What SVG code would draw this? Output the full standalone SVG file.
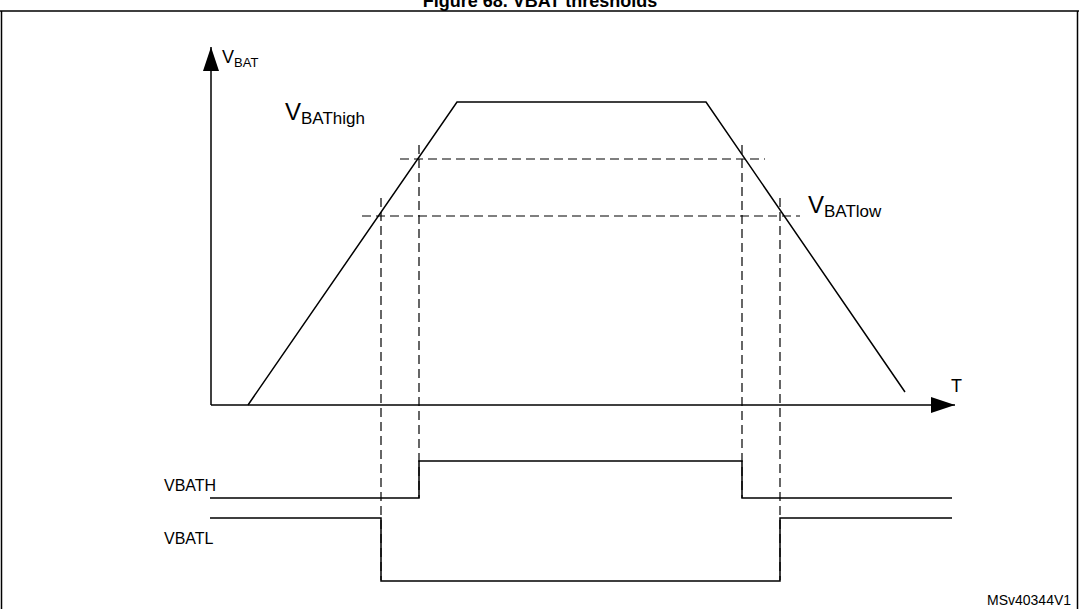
<svg xmlns="http://www.w3.org/2000/svg" width="1079" height="609" viewBox="0 0 1079 609">
<style>
text{font-family:"Liberation Sans",Arial,sans-serif;fill:#000}
.l{stroke:#000;stroke-width:1.5;fill:none}
.d{stroke:#000;stroke-width:1.2;fill:none;stroke-dasharray:9,5}
</style>
<defs>
<marker id="big" viewBox="0 0 24 16" refX="24" refY="8" markerWidth="24" markerHeight="16" orient="auto" markerUnits="userSpaceOnUse"><path d="M0,0L24,8L0,16z"/></marker></defs>
<rect width="1079" height="609" fill="#fff"/>
<text x="540" y="7" font-size="18" font-weight="bold" text-anchor="middle">Figure 68. VBAT thresholds</text>
<path class="l" d="M0,11H1079M1.5,11V609M1077.5,11V609"/>
<g id="axes">
<path class="l" d="M211,405V47" marker-end="url(#big)"/>
<path class="l" d="M211,405H955" marker-end="url(#big)"/>
</g>
<g id="curve"><path class="l" d="M248,405L457,102H706L905,392"/></g>
<g id="connectors">
<path class="d" d="M400,159H765M362,216H800M381,198V580M419,145V498M742,145V498M780,198V580"/>
</g>
<g id="vbath"><path class="l" d="M210,498H419V461H742V498H952"/></g>
<g id="vbatl"><path class="l" d="M210,518H381V581H780V518H952"/></g>
<text x="222" y="63" font-size="18">V<tspan font-size="13" dy="4">BAT</tspan></text>
<text x="285" y="120" font-size="24">V<tspan font-size="17" dy="4">BAThigh</tspan></text>
<text x="808" y="213" font-size="24">V<tspan font-size="17" dy="4">BATlow</tspan></text>
<text x="951" y="392" font-size="18">T</text>
<text x="164" y="491" font-size="16">VBATH</text>
<text x="164" y="544" font-size="16">VBATL</text>
<text x="987" y="605" font-size="14">MSv40344V1</text>
</svg>
